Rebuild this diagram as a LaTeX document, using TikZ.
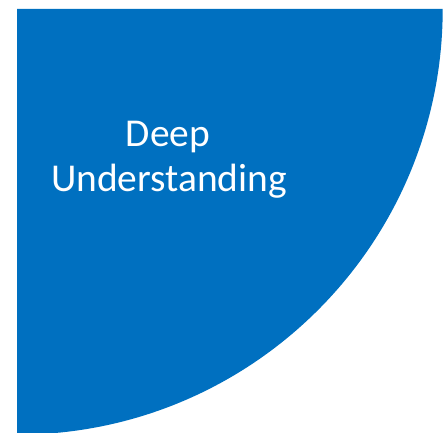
\documentclass[tikz,border=0pt]{standalone}
\usepackage{fontspec}
\setmainfont{Carlito}
\definecolor{qblue}{HTML}{0070C0}
\tikzset{quarter/.style={fill=qblue,draw=none},
  label text/.style={text=white,align=center,inner sep=0pt,font=\fontsize{39.6}{45.2}\selectfont}}
\begin{document}
\begin{tikzpicture}[x=1bp,y=1bp]
\useasboundingbox (0,0) rectangle (444,433);
\begin{scope}
\clip (0,0) rectangle (444,433);
\fill[quarter] (17,424) -- (442.7,424) arc[start angle=0,end angle=-90,radius=425.7] -- cycle;
\end{scope}
\node[label text,anchor=base] (deep) at (168,286) {Deep};
\node[label text,anchor=base] (und) at (169,241) {Understanding};
\end{tikzpicture}
\end{document}
